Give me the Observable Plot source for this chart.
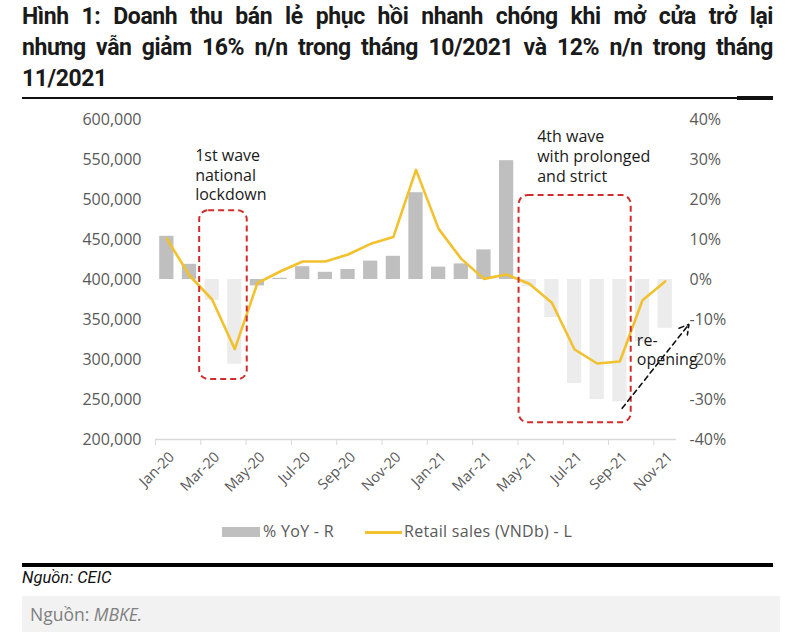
<!DOCTYPE html>
<html>
<head>
<meta charset="utf-8">
<script src="https://cdn.jsdelivr.net/npm/d3@7"></script>
<script src="https://cdn.jsdelivr.net/npm/@observablehq/plot@0.6"></script>
<style>
  html, body { margin: 0; padding: 0; background: #fff; }
  body { width: 800px; height: 632px; position: relative; overflow: hidden; font-family: "Open Sans", sans-serif; }
  #title { position: absolute; left: 22px; top: 1px; width: 751px; font-family: Roboto, sans-serif; font-weight: 700; font-size: 23px; line-height: 31px; color: #1a1a1a; letter-spacing: -0.4px; }
  #title .j { text-align: justify; text-align-last: justify; }
  #rule1 { position: absolute; left: 22px; top: 97px; width: 751px; height: 2px; background: #111; }
  #rule1b { position: absolute; left: 737px; top: 96px; width: 36px; height: 4px; background: #111; }
  #chart { position: absolute; left: 0; top: 105px; }
  #legend { position: absolute; top: 520px; left: 0; width: 800px; height: 22px; font-size: 16px; color: #595959; letter-spacing: 0.3px; }
  #legend .sw { position: absolute; left: 222px; top: 7px; width: 38px; height: 10px; background: #bfbfbf; }
  #legend .t1 { position: absolute; left: 263px; top: 0px; }
  #legend .ln { position: absolute; left: 365px; top: 11px; width: 37px; height: 2.5px; background: #f2c12e; }
  #legend .t2 { position: absolute; left: 404px; top: 0px; }
  #rule2 { position: absolute; left: 22px; top: 563px; width: 751px; height: 4px; background: #000; }
  #src1 { position: absolute; left: 22px; top: 568px; font-family: Roboto, sans-serif; font-style: italic; font-size: 16.5px; color: #111; }
  #box { position: absolute; left: 22px; top: 596px; width: 758px; height: 36px; background: #f2f2f2; }
  #src2 { position: absolute; left: 8px; top: 6px; font-size: 17.5px; color: #7f7f7f; }
</style>
</head>
<body>
<div id="title">
  <div class="j">Hình 1: Doanh thu bán lẻ phục hồi nhanh chóng khi mở cửa trở lại</div>
  <div class="j">nhưng vẫn giảm 16% n/n trong tháng 10/2021 và 12% n/n trong tháng</div>
  <div>11/2021</div>
</div>
<div id="rule1"></div><div id="rule1b"></div>
<div id="chart"></div>
<div id="legend"><div class="sw"></div><span class="t1">% YoY - R</span><div class="ln"></div><span class="t2">Retail sales (VNDb) - L</span></div>
<div id="rule2"></div>
<div id="src1">Nguồn: CEIC</div>
<div id="box"><div id="src2">Nguồn: <i>MBKE.</i></div></div>
<script>
// ---- Data ----
const months = ["Jan-20","Feb-20","Mar-20","Apr-20","May-20","Jun-20","Jul-20","Aug-20","Sep-20","Oct-20","Nov-20","Dec-20",
                "Jan-21","Feb-21","Mar-21","Apr-21","May-21","Jun-21","Jul-21","Aug-21","Sep-21","Oct-21","Nov-21"];
// % YoY (right axis)
const yoy = [10.8, 3.8, -5.2, -21.2, -1.6, 0.3, 3.2, 1.8, 2.5, 4.6, 5.8, 21.7,
             3.1, 3.9, 7.4, 29.7, -1.8, -9.5, -26.0, -30.0, -30.6, -15.6, -12.2];
// Retail sales, VND billion (left axis)
const sales = [451000, 405000, 375000, 313000, 395400, 410000, 422500, 422500, 431300, 444600, 453000, 537000,
               463300, 425800, 400800, 406300, 394600, 371000, 312500, 295000, 297500, 374000, 397500];
const leftTicks = [200000, 250000, 300000, 350000, 400000, 450000, 500000, 550000, 600000];
const rightTicks = [-40, -30, -20, -10, 0, 10, 20, 30, 40];

// Annotations (in data space: month index / left-axis value)
const notes = [
  {x: 1.75, y: 566000, text: "1st wave\nnational\nlockdown"},
  {x: 16.85, y: 589000, text: "4th wave\nwith prolonged\nand strict"},
  {x: 21.25, y: 335000, text: "re-\nopening"}
];
const boxes = [
  {x1: 1.95, x2: 4.05, y1: 275000, y2: 486000},
  {x1: 16.05, x2: 21.0, y1: 221000, y2: 505000}
];
const arrowData = [{x1: 20.6, y1: 239000, x2: 23.55, y2: 344000}];

// ---- Mapping right axis (%) onto left scale ----
const base = 400000, perPct = 5000; // 10% = 50,000
const toLeft = p => base + p * perPct;

const rows = months.map((m, i) => ({i, m, yoy: yoy[i], sales: sales[i]}));
const labelRows = rows.filter(d => d.i % 2 === 0);

const gray = "#595959";
const chart = Plot.plot({
  width: 800,
  height: 410,
  marginLeft: 155,
  marginRight: 124,
  marginTop: 14,
  marginBottom: 76,
  style: {fontFamily: "'Open Sans', sans-serif", background: "transparent", overflow: "visible"},
  x: {type: "linear", domain: [0, months.length], axis: null},
  y: {domain: [200000, 600000], axis: null},
  marks: [
    // bars (%YoY)
    Plot.rectY(rows, {
      x1: d => d.i, x2: d => d.i + 1,
      y1: base, y2: d => toLeft(d.yoy),
      insetLeft: 4.2, insetRight: 4.2,
      fill: d => d.yoy < -1.7 ? "#ececec" : "#bfbfbf"
    }),
    // x axis line
    Plot.ruleY([200000], {x1: 0, x2: months.length, stroke: "#d9d9d9", strokeWidth: 1.3}),
    Plot.axisX({ticks: d3.range(0, months.length, 2), tickFormat: () => "", tickSize: 6, stroke: "#d9d9d9", anchor: "bottom"}),
    // x labels rotated
    Plot.text(labelRows, {
      x: d => d.i + 0.5, y: 200000, text: "m",
      rotate: -45, textAnchor: "end", dx: 5, dy: 15,
      fontSize: 14.5, fill: gray
    }),
    // left axis
    Plot.axisY({anchor: "left", ticks: leftTicks, tickFormat: d3.format(","), tickSize: 0, tickPadding: 14, fontSize: 16, fill: gray, style: {letterSpacing: "0.8px"}}),
    // right axis
    Plot.axisY({anchor: "right", ticks: rightTicks.map(toLeft), tickFormat: v => Math.round((v - base) / perPct) + "%", tickSize: 0, tickPadding: 13, fontSize: 16, fill: gray, style: {letterSpacing: "0.4px"}}),
    // retail sales line
    Plot.lineY(rows, {x: d => d.i + 0.5, y: "sales", stroke: "#f2c12e", strokeWidth: 2.6, curve: "linear"}),
    // red dashed boxes
    Plot.rect(boxes, {x1: "x1", x2: "x2", y1: "y1", y2: "y2", fill: "none", stroke: "#d22b2b", strokeWidth: 2, strokeDasharray: "6,4", rx: 9}),
    // arrow
    Plot.arrow(arrowData, {x1: "x1", y1: "y1", x2: "x2", y2: "y2", stroke: "#111", strokeWidth: 1.6, strokeDasharray: "5,4", headLength: 10, bend: 0}),
    // annotation text
    Plot.text(notes, {x: "x", y: "y", text: "text", textAnchor: "start", lineAnchor: "top", lineHeight: 1.24, fontSize: 16, fill: "#1a1a1a"})
  ]
});
document.getElementById("chart").appendChild(chart);
</script>
</body>
</html>
